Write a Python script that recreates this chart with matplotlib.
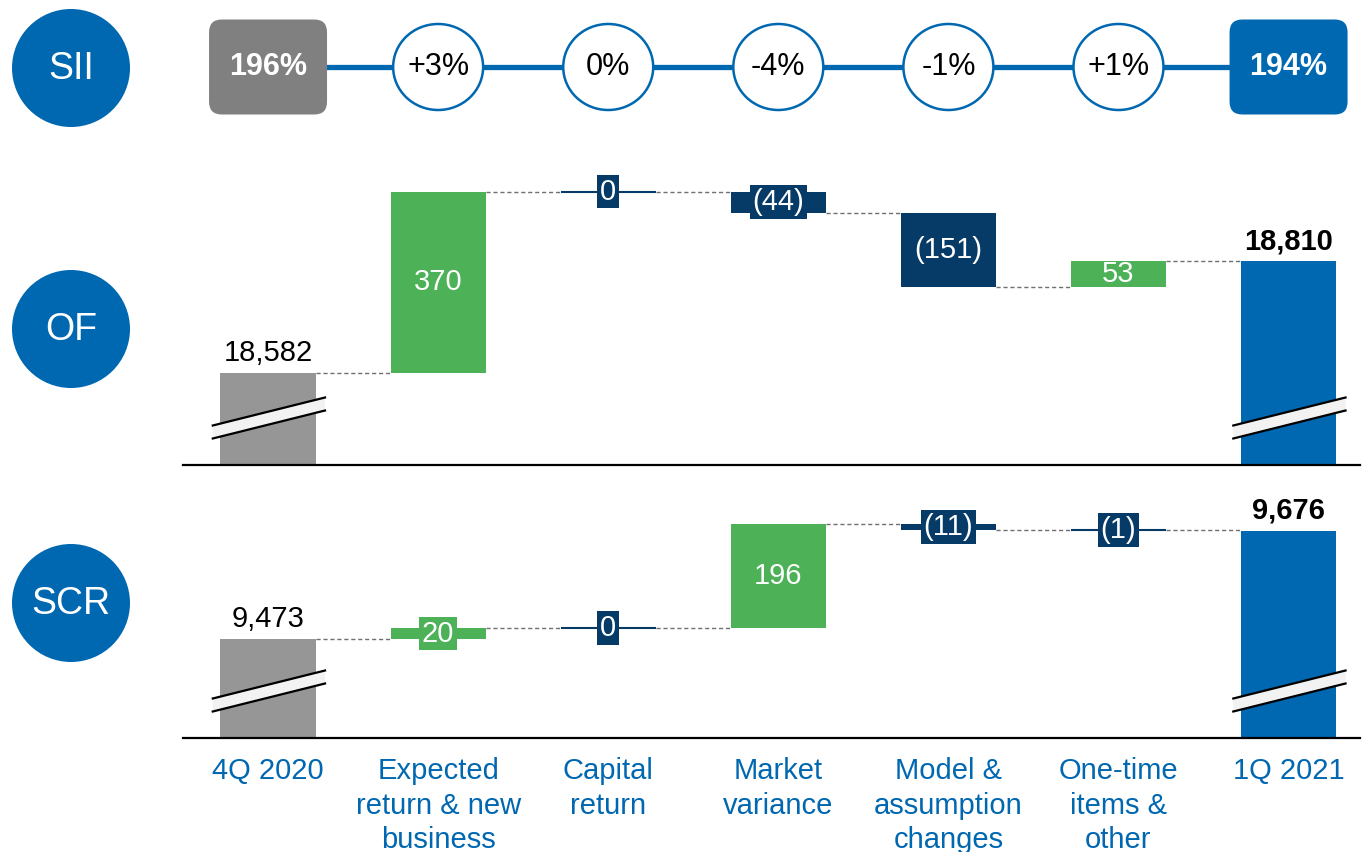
import matplotlib
matplotlib.use("Agg")
import matplotlib.pyplot as plt
import numpy as np
from matplotlib.patches import Ellipse, FancyBboxPatch, Polygon, Circle
from matplotlib.transforms import blended_transform_factory

plt.rcParams['font.family'] = ['Liberation Sans', 'DejaVu Sans']

# ---------------- data ----------------
categories = ["4Q 2020", "Expected\nreturn & new\nbusiness", "Capital\nreturn",
              "Market\nvariance", "Model &\nassumption\nchanges",
              "One-time\nitems &\nother", "1Q 2021"]
sii_labels = ["196%", "+3%", "0%", "-4%", "-1%", "+1%", "194%"]
row_names = ["SII", "OF", "SCR"]

of_start = 18582
of_deltas = [370, 0, -44, -151, 53]
of_end = 18810

scr_start = 9473
scr_deltas = [20, 0, 196, -11, -1]
scr_end = 9676

# ---------------- style ----------------
GREEN = "#4CB157"
NAVY = "#053B66"
BLUE = "#0067B1"
GRAY_BAR = "#969696"
GRAY_BOX = "#808080"
W, H = 1363, 852
BAR_W = 0.56
FS = 21

fig = plt.figure(figsize=(W / 100, H / 100), dpi=100)

# overlay for the row badges (pixel coordinates)
ax_lab = fig.add_axes([0, 0, 1, 1])
ax_lab.set_xlim(0, W)
ax_lab.set_ylim(H, 0)
ax_lab.axis("off")
for name, cy in zip(row_names, [68, 329, 603]):
    ax_lab.add_patch(Circle((71, cy), 59, facecolor=BLUE, edgecolor="none"))
    ax_lab.text(71, cy + 1, name, color="white", fontsize=27, ha="center", va="center")

XL = (-0.5, 6.42)
x_left, x_w = 183 / W, 1177 / W


def fmt(v):
    if v < 0:
        return f"({abs(v):,})"
    return f"{v:,}"


def waterfall(ax, start, deltas, end, ylim, ax_h_px):
    scale = ax_h_px / (ylim[1] - ylim[0])  # px per unit
    n = len(deltas) + 2
    x = np.arange(n)
    ax.set_xlim(*XL)
    ax.set_ylim(*ylim)
    for s in ["top", "right", "left"]:
        ax.spines[s].set_visible(False)
    ax.spines["bottom"].set_linewidth(1.6)
    ax.spines["bottom"].set_zorder(6)
    ax.set_xticks([])
    ax.set_yticks([])
    ax.patch.set_alpha(0)

    # end bars
    ax.bar(x[0], start, width=BAR_W, color=GRAY_BAR, zorder=2)
    ax.bar(x[-1], end, width=BAR_W, color=BLUE, zorder=2)
    ax.annotate(fmt(start), (x[0], start), xytext=(0, 8.5), textcoords="offset points",
                ha="center", va="baseline", fontsize=FS, color="black")
    ax.annotate(fmt(end), (x[-1], end), xytext=(0, 8.5), textcoords="offset points",
                ha="center", va="baseline", fontsize=FS, color="black", fontweight="bold")

    level = start
    levels = [start]
    for i, d in enumerate(deltas, start=1):
        col = GREEN if d > 0 else NAVY
        ax.bar(x[i], d, bottom=level, width=BAR_W, color=col, zorder=3)
        if abs(d) * scale < 2:
            ax.hlines(level + d, x[i] - BAR_W / 2, x[i] + BAR_W / 2, color=col, lw=1.5, zorder=3)
        mid = level + d / 2
        if abs(d) * scale >= 24:
            ax.text(x[i], mid, fmt(d), color="white", fontsize=FS, ha="center", va="center", zorder=5)
        else:
            ax.text(x[i], mid, fmt(d), color="white", fontsize=FS, ha="center", va="center", zorder=5,
                    bbox=dict(boxstyle="square,pad=0.1", facecolor=col, edgecolor="none"))
        level += d
        levels.append(level)

    # connectors
    for i in range(n - 1):
        y = levels[i]
        ax.plot([x[i] + BAR_W / 2, x[i + 1] - BAR_W / 2], [y, y], color="#707070",
                lw=1.0, ls=(0, (3, 2)), zorder=1)

    # axis-break marks on the end bars
    tr = blended_transform_factory(ax.transData, ax.transAxes)
    yl, yr, t = 33 / ax_h_px, 61 / ax_h_px, 6.5 / ax_h_px
    for xi in [x[0], x[-1]]:
        x0, x1 = xi - 0.325, xi + 0.335
        ax.add_patch(Polygon([(x0, yl - t), (x1, yr - t), (x1, yr + t), (x0, yl + t)],
                             closed=True, facecolor="#F2F2F2", edgecolor="none",
                             transform=tr, zorder=4, clip_on=False))
        for s in (-t, t):
            ax.plot([x0, x1], [yl + s, yr + s], color="black", lw=1.6, transform=tr,
                    zorder=4, clip_on=False)
    return ax


# OF axes: baseline at 465 px, top at 170 px
of_h = 465 - 170
ax_of = fig.add_axes([x_left, 1 - 465 / H, x_w, of_h / H])
waterfall(ax_of, of_start, of_deltas, of_end, (18394, 18394 + of_h / 0.49), of_h)

# SCR axes: baseline at 738 px, top at 490 px
scr_h = 738 - 490
ax_scr = fig.add_axes([x_left, 1 - 738 / H, x_w, scr_h / H])
waterfall(ax_scr, scr_start, scr_deltas, scr_end, (9287, 9287 + scr_h / 0.533), scr_h)

# category labels
trc = blended_transform_factory(ax_scr.transData, ax_scr.transAxes)
for i, c in enumerate(categories):
    ax_scr.text(i, -19 / scr_h, c, transform=trc, ha="center", va="top", fontsize=FS,
                color=BLUE, linespacing=1.3)

# SII row
top_h = 115
ax_top = fig.add_axes([x_left, 1 - 125 / H, x_w, top_h / H])
ax_top.set_xlim(*XL)
ax_top.set_ylim(0, top_h / 170.1)
ax_top.axis("off")
cy = (125 - 67) / 170.1
n = len(sii_labels)
ax_top.plot([0, n - 1], [cy, cy], color=BLUE, lw=3.8, zorder=1, solid_capstyle="butt")
bw, bh = 118 / 170.1, 95 / 170.1
for i, lab in enumerate(sii_labels):
    if i == 0 or i == n - 1:
        fc = GRAY_BOX if i == 0 else BLUE
        ax_top.add_patch(FancyBboxPatch((i - bw / 2, cy - bh / 2), bw, bh,
                                        boxstyle="round,pad=0,rounding_size=0.075",
                                        facecolor=fc, edgecolor="none", zorder=2))
        ax_top.text(i, cy, lab, color="white", fontsize=22, fontweight="bold",
                    ha="center", va="center", zorder=3)
    else:
        ax_top.add_patch(Ellipse((i, cy), 90 / 170.1, 86 / 170.1, facecolor="white",
                                 edgecolor=BLUE, lw=1.8, zorder=2))
        ax_top.text(i, cy, lab, color="black", fontsize=22, ha="center", va="center", zorder=3)

fig.savefig("out.png", dpi=100)
